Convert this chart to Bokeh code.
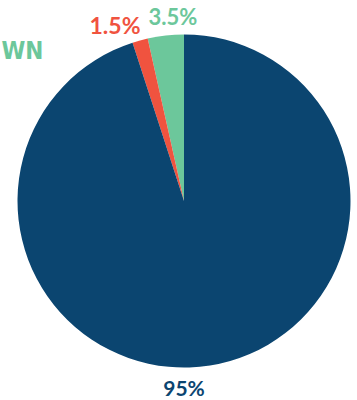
import numpy as np
from bokeh.plotting import figure
from bokeh.models import Range1d, ColumnDataSource
from bokeh.core.properties import value
from bokeh.embed import file_html
from bokeh.resources import INLINE

# data
categories = ["Shown (green)", "Other (red)", "Main (blue)"]
shares = [3.5, 1.5, 95.0]
colors = ["#6cc79b", "#f0533f", "#0b4570"]
label_texts = ["3.5%", "1.5%", "95%"]

W, H = 357, 400
p = figure(width=W, height=H, output_backend="svg", toolbar_location=None,
           x_range=Range1d(0, W), y_range=Range1d(0, H),
           min_border=0, outline_line_color=None)
p.axis.visible = False
p.grid.visible = False

vals = np.array(shares)
frac = vals / vals.sum()
ends = np.pi / 2 + np.cumsum(frac) * 2 * np.pi
starts = ends - frac * 2 * np.pi
src = ColumnDataSource(dict(cat=categories, start=starts, end=ends, color=colors))

cx, cy, r = 183.5, H - 200.5, 166.5
p.wedge(x=cx, y=cy, radius=r, start_angle="start", end_angle="end",
        fill_color="color", line_color=None, source=src)

font = value("Lato")
off = 8  # baseline correction
# 3.5%
p.text(x=[172.5], y=[H - 24 + off], text=[label_texts[0]], text_color=colors[0],
       text_font=font, text_font_style="bold", text_font_size="22px",
       text_align="center", text_baseline="alphabetic")
# 1.5%
p.text(x=[114.5], y=[H - 32 + off], text=[label_texts[1]], text_color=colors[1],
       text_font=font, text_font_style="bold", text_font_size="23px",
       text_align="center", text_baseline="alphabetic")
# 95%
p.text(x=[183.5], y=[H - 395 + off], text=[label_texts[2]], text_color=colors[2],
       text_font=font, text_font_style="bold", text_font_size="21px",
       text_align="center", text_baseline="alphabetic")
# cut-off legend word
p.text(x=[1], y=[H - 58 + off], text=["WN"], text_color=colors[0],
       text_font=value("DejaVu Sans Condensed"), text_font_style="bold",
       text_font_size="24px", text_align="left", text_baseline="alphabetic")

open("out.html", "w").write(file_html(p, INLINE))
